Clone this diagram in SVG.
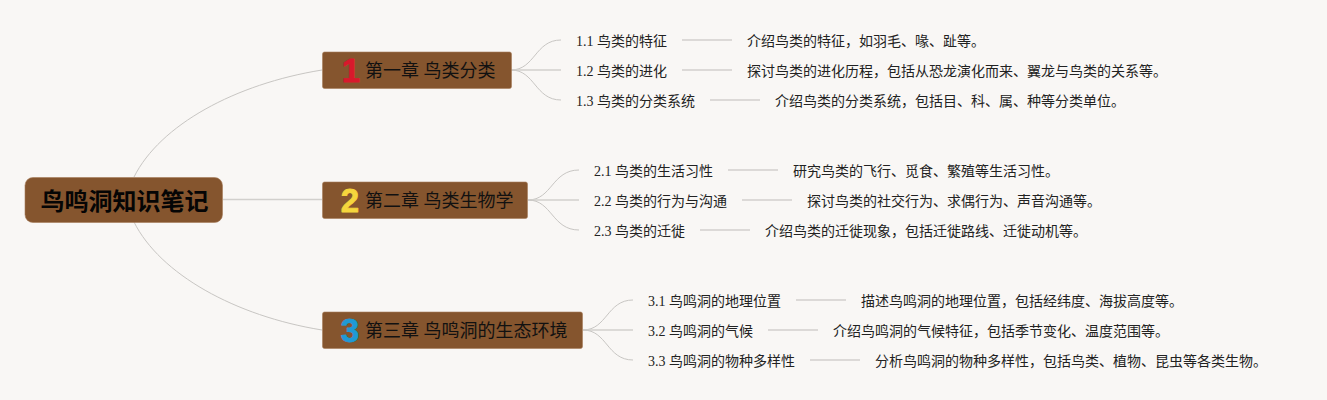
<svg xmlns="http://www.w3.org/2000/svg" width="1327" height="400" viewBox="0 0 1327 400">
<style>
.box{fill:#85552e;stroke:#a67c5b;stroke-width:.6}
.c{fill:none;stroke:#c8c6c3;stroke-width:1}
.m{fill:none;stroke:#d2d0cd;stroke-width:1.6}
.h{font-family:"Liberation Serif","Noto Sans CJK SC",serif;font-size:18px;fill:#111}
.t{font-family:"Liberation Serif","Noto Sans CJK SC",serif;font-size:14px;fill:#222}
.r{font-family:"Liberation Serif","Noto Sans CJK SC",serif;font-size:24px;font-weight:700;fill:#050505}
.n{font-family:"Liberation Sans",sans-serif;font-size:33px;font-weight:700;text-anchor:middle;stroke-width:.8;stroke-linejoin:round}
</style>
<rect width="1327" height="400" fill="#f9f7f5"/>
<g id="connectors">
<path class="c" d="M134 177C160 125 235 84 322 70"/>
<path class="c" d="M134 222C160 274 235 316 322 330"/>
<path class="m" d="M223 199.500H322"/>
<path class="c" d="M511 70C535 70 535 40 561 40"/>
<path class="m" d="M511 70H561"/>
<path class="c" d="M511 70C535 70 535 100 561 100"/>
<path class="c" d="M528 200C552 200 552 170 579 170"/>
<path class="m" d="M528 200H579"/>
<path class="c" d="M528 200C552 200 552 230 579 230"/>
<path class="c" d="M583 330C607 330 607 300 633 300"/>
<path class="m" d="M583 330H633"/>
<path class="c" d="M583 330C607 330 607 360 633 360"/>
<path class="m" d="M682 40H732M682 70H732M710 100H760M728 170H778M742 200H792M700 230H750M796 300H846M768 330H818M810 360H860"/>
</g>
<g id="root"><rect class="box" x="25" y="177.500" width="197.500" height="45" rx="8"/><text class="r" x="40.500" y="210">鸟鸣洞知识笔记</text></g>
<g id="ch1"><rect class="box" x="322.500" y="52" width="189" height="36.500" rx="2"/><text class="n" x="351" y="82" fill="#d8192c" stroke="#d8192c">1</text><text class="h" x="365" y="77">第一章 鸟类分类</text></g>
<g id="ch2"><rect class="box" x="322.500" y="182" width="205" height="36.500" rx="2"/><text class="n" x="350" y="212" fill="#f5d63d" stroke="#f5d63d">2</text><text class="h" x="365" y="207">第二章 鸟类生物学</text></g>
<g id="ch3"><rect class="box" x="322.500" y="312" width="260" height="36.500" rx="2"/><text class="n" x="350" y="342" fill="#1f9ad6" stroke="#1f9ad6">3</text><text class="h" x="365" y="337">第三章 鸟鸣洞的生态环境</text></g>
<g id="n11"><text class="t" x="576" y="46">1.1 鸟类的特征</text></g>
<g id="d11"><text class="t" x="747" y="46">介绍鸟类的特征，如羽毛、喙、趾等。</text></g>
<g id="n12"><text class="t" x="576" y="76">1.2 鸟类的进化</text></g>
<g id="d12"><text class="t" x="747" y="76">探讨鸟类的进化历程，包括从恐龙演化而来、翼龙与鸟类的关系等。</text></g>
<g id="n13"><text class="t" x="576" y="106">1.3 鸟类的分类系统</text></g>
<g id="d13"><text class="t" x="775" y="106">介绍鸟类的分类系统，包括目、科、属、种等分类单位。</text></g>
<g id="n21"><text class="t" x="594" y="176">2.1 鸟类的生活习性</text></g>
<g id="d21"><text class="t" x="793" y="176">研究鸟类的飞行、觅食、繁殖等生活习性。</text></g>
<g id="n22"><text class="t" x="594" y="206">2.2 鸟类的行为与沟通</text></g>
<g id="d22"><text class="t" x="807" y="206">探讨鸟类的社交行为、求偶行为、声音沟通等。</text></g>
<g id="n23"><text class="t" x="594" y="236">2.3 鸟类的迁徙</text></g>
<g id="d23"><text class="t" x="765" y="236">介绍鸟类的迁徙现象，包括迁徙路线、迁徙动机等。</text></g>
<g id="n31"><text class="t" x="648" y="306">3.1 鸟鸣洞的地理位置</text></g>
<g id="d31"><text class="t" x="861" y="306">描述鸟鸣洞的地理位置，包括经纬度、海拔高度等。</text></g>
<g id="n32"><text class="t" x="648" y="336">3.2 鸟鸣洞的气候</text></g>
<g id="d32"><text class="t" x="833" y="336">介绍鸟鸣洞的气候特征，包括季节变化、温度范围等。</text></g>
<g id="n33"><text class="t" x="648" y="366">3.3 鸟鸣洞的物种多样性</text></g>
<g id="d33"><text class="t" x="875" y="366">分析鸟鸣洞的物种多样性，包括鸟类、植物、昆虫等各类生物。</text></g>
</svg>
